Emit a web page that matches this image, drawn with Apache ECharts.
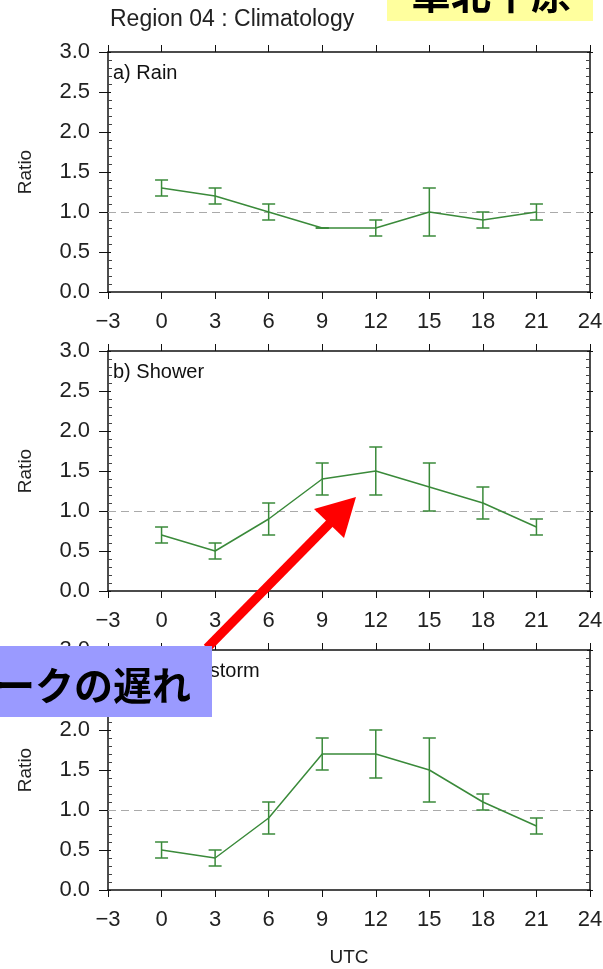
<!DOCTYPE html>
<html>
<head>
<meta charset="utf-8">
<script src="https://cdn.jsdelivr.net/npm/echarts@6/dist/echarts.min.js"></script>
<style>html,body{margin:0;padding:0;background:#fff;}#c{width:603px;height:969px;}</style>
</head>
<body>
<div id="c"></div>
<script>
const hours = [0, 3, 6, 9, 12, 15, 18, 21];
const rainMean = [1.3, 1.2, 1.0, 0.8, 0.8, 1.0, 0.9, 1.0];
const rainLow  = [1.2, 1.1, 0.9, 0.8, 0.7, 0.7, 0.8, 0.9];
const rainHigh = [1.4, 1.3, 1.1, 0.8, 0.9, 1.3, 1.0, 1.1];
const showerMean = [0.7, 0.5, 0.9, 1.4, 1.5, 1.3, 1.1, 0.8];
const showerLow  = [0.6, 0.4, 0.7, 1.2, 1.2, 1.0, 0.9, 0.7];
const showerHigh = [0.8, 0.6, 1.1, 1.6, 1.8, 1.6, 1.3, 0.9];
const thunderMean = [0.5, 0.4, 0.9, 1.7, 1.7, 1.5, 1.1, 0.8];
const thunderLow  = [0.4, 0.3, 0.7, 1.5, 1.4, 1.1, 1.0, 0.7];
const thunderHigh = [0.6, 0.5, 1.1, 1.9, 2.0, 1.9, 1.2, 0.9];
const panelLabels = ['a) Rain', 'b) Shower', 'c) Thunderstorm'];
const xMin = -3, xMax = 24, xStep = 3;
const yMin = 0, yMax = 3, yStep = 0.5;
const refLevel = 1.0;
const titleText = 'Region 04 : Climatology';
const yName = 'Ratio';
const xName = 'UTC';
const regionNote = '華北平原';
const peakNote = 'ピークの遅れ';

const panels = [
  {mean: rainMean, low: rainLow, high: rainHigh},
  {mean: showerMean, low: showerLow, high: showerHigh},
  {mean: thunderMean, low: thunderLow, high: thunderHigh}
];

const FONT = 'Liberation Sans, Arial, sans-serif';
const GREEN = '#3a8a3a';
const INK = '#111';
const gridTops = [52, 351, 650];
const gridH = 240, gridL = 108, gridR = 13;

const grids = [], xAxes = [], yAxes = [], series = [];
panels.forEach((p, i) => {
  grids.push({left: gridL, right: gridR, top: gridTops[i], height: gridH, show: false,
    containLabel: false, outerBoundsMode: 'none'});
  const axLine = {show: true, onZero: false, lineStyle: {color: INK, width: 1.5}};
  const xFmt = v => v < 0 ? '\u2212' + Math.abs(v) : String(v);
  xAxes.push({
    gridIndex: i, type: 'value', min: xMin, max: xMax, interval: xStep, position: 'bottom',
    axisLine: axLine, axisTick: {show: true, length: 7, lineStyle: {color: INK, width: 1}},
    axisLabel: {show: true, fontSize: 22, color: '#222', fontFamily: FONT, margin: 19, formatter: xFmt},
    splitLine: {show: false},
    name: i === 2 ? xName : '', nameLocation: 'middle', nameGap: 58,
    nameTextStyle: {fontSize: 19, color: '#222', fontFamily: FONT}
  });
  xAxes.push({
    gridIndex: i, type: 'value', min: xMin, max: xMax, interval: xStep, position: 'top',
    axisLine: axLine, axisTick: {show: true, length: 7, lineStyle: {color: INK, width: 1}},
    axisLabel: {show: false}, splitLine: {show: false}
  });
  const yBase = {gridIndex: i, type: 'value', min: yMin, max: yMax, interval: yStep, splitLine: {show: false}};
  yAxes.push(Object.assign({}, yBase, {
    position: 'left', axisLine: axLine,
    axisTick: {show: true, length: 9, lineStyle: {color: INK, width: 1}},
    axisLabel: {show: true, fontSize: 22, color: '#222', fontFamily: FONT, margin: 18, formatter: v => v.toFixed(1)},
    name: yName, nameLocation: 'middle', nameRotate: 90, nameGap: 73,
    nameTextStyle: {fontSize: 19, color: '#222', fontFamily: FONT}
  }));
  yAxes.push(Object.assign({}, yBase, {
    position: 'left', axisLine: {show: false, onZero: false},
    axisTick: {show: true, inside: true, length: 3, lineStyle: {color: INK, width: 1}},
    minorTick: {show: true, splitNumber: 5, length: 4, lineStyle: {color: '#444', width: 1}},
    axisLabel: {show: false}
  }));
  yAxes.push(Object.assign({}, yBase, {
    position: 'right', axisLine: axLine,
    axisTick: {show: true, length: 3, lineStyle: {color: INK, width: 1}},
    axisLabel: {show: false}
  }));
  yAxes.push(Object.assign({}, yBase, {
    position: 'right', axisLine: {show: false, onZero: false},
    axisTick: {show: true, inside: true, length: 3, lineStyle: {color: INK, width: 1}},
    minorTick: {show: true, splitNumber: 5, length: 4, lineStyle: {color: '#444', width: 1}},
    axisLabel: {show: false}
  }));
  const xi = i * 2, yi = i * 4;
  series.push({
    type: 'line', xAxisIndex: xi, yAxisIndex: yi,
    data: hours.map((h, k) => [h, p.mean[k]]),
    showSymbol: false, symbol: 'none',
    lineStyle: {color: GREEN, width: 1.5},
    z: 3,
    markLine: {
      silent: true, symbol: ['none', 'none'], label: {show: false},
      lineStyle: {color: '#aaa', type: [8, 5], width: 1},
      data: [{yAxis: refLevel}], z: 1
    }
  });
  series.push({
    type: 'custom', xAxisIndex: xi, yAxisIndex: yi,
    data: hours.map((h, k) => [h, p.low[k], p.high[k]]),
    encode: {x: 0, y: [1, 2]}, z: 4,
    renderItem: (params, api) => {
      const x = api.value(0);
      const a = api.coord([x, api.value(1)]);
      const b = api.coord([x, api.value(2)]);
      const w = 6.5;
      const st = {stroke: GREEN, lineWidth: 1.5};
      return {type: 'group', children: [
        {type: 'line', shape: {x1: a[0], y1: a[1], x2: b[0], y2: b[1]}, style: st},
        {type: 'line', shape: {x1: a[0] - w, y1: a[1], x2: a[0] + w, y2: a[1]}, style: st},
        {type: 'line', shape: {x1: b[0] - w, y1: b[1], x2: b[0] + w, y2: b[1]}, style: st}
      ]};
    }
  });
});

const graphics = [];
graphics.push({type: 'text', x: 110, y: 20, z: 10,
  style: {text: titleText, fontSize: 23, fill: '#222', fontFamily: FONT, verticalAlign: 'middle'}});
panels.forEach((p, i) => {
  graphics.push({type: 'text', x: 113, y: gridTops[i] + 21, z: 10,
    style: {text: panelLabels[i], fontSize: 20, fill: '#111', fontFamily: FONT, verticalAlign: 'middle'}});
});
// red arrow
graphics.push({type: 'line', z: 20, shape: {x1: 207, y1: 648, x2: 332, y2: 521},
  style: {stroke: '#ff0000', lineWidth: 9}});
graphics.push({type: 'polygon', z: 21, shape: {points: [[356, 497], [314, 509], [344, 538]]},
  style: {fill: '#ff0000'}});
// blue note box
graphics.push({type: 'rect', z: 30, shape: {x: -2, y: 646, width: 214, height: 71},
  style: {fill: '#9a9aff'}});
graphics.push({type: 'text', z: 31, x: 191, y: 685,
  style: {text: peakNote, fontSize: 39, fontWeight: 'bold', fill: '#000',
    fontFamily: 'Noto Sans CJK JP', align: 'right', verticalAlign: 'middle'}});
// yellow note box
graphics.push({type: 'rect', z: 30, shape: {x: 387, y: -5, width: 206, height: 26},
  style: {fill: '#ffff9e'}});
graphics.push({type: 'text', z: 31, x: 491, y: -6,
  style: {text: regionNote, fontSize: 40, fontWeight: 'bold', fill: '#000',
    fontFamily: 'Noto Sans CJK JP', align: 'center', verticalAlign: 'middle'}});

const chart = echarts.init(document.getElementById('c'), null, {renderer: 'canvas'});
chart.setOption({
  animation: false,
  backgroundColor: '#fff',
  grid: grids, xAxis: xAxes, yAxis: yAxes, series: series, graphic: graphics
});
</script>
</body>
</html>
